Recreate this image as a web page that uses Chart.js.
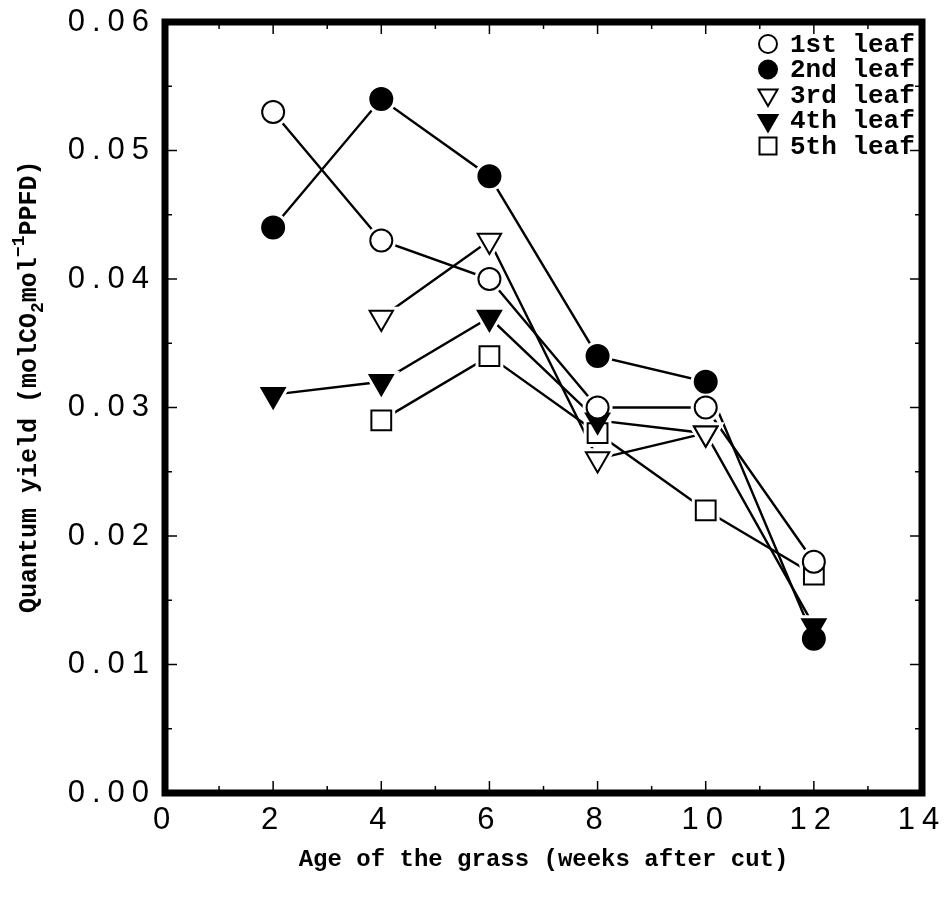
<!DOCTYPE html>
<html>
<head>
<meta charset="utf-8">
<script src="https://cdn.jsdelivr.net/npm/chart.js@4.4.1/dist/chart.umd.min.js"></script>
<style>
html, body { margin: 0; padding: 0; background: #fff; }
#wrap { width: 944px; height: 897px; }
</style>
</head>
<body>
<div id="wrap"><canvas id="myChart"></canvas></div>
<script>
// weeks after cut and quantum yield per leaf
const weeks = [2, 4, 6, 8, 10, 12];
const leaf1 = [0.053, 0.043, 0.040, 0.030, 0.030, 0.018];
const leaf2 = [0.044, 0.054, 0.048, 0.034, 0.032, 0.012];
const leaf3 = [null, 0.037, 0.043, 0.026, 0.028, null];
const leaf4 = [0.031, 0.032, 0.037, 0.029, 0.028, 0.013];
const leaf5 = [null, 0.029, 0.034, 0.028, 0.022, 0.017];
const leafNames = ['1st leaf', '2nd leaf', '3rd leaf', '4th leaf', '5th leaf'];

const mono = '"Liberation Mono", "Courier New", monospace';

const pairs = (vals) => weeks.map((w, i) => ({ x: w, y: vals[i] }));

const markers = [
    { style: 'circle', fill: '#fff', radius: 11, rotation: 0 },
    { style: 'circle', fill: '#000', radius: 11, rotation: 0 },
    { style: 'triangle', fill: '#fff', radius: 13.5, rotation: 180 },
    { style: 'triangle', fill: '#000', radius: 13.5, rotation: 180 },
    { style: 'rect', fill: '#fff', radius: 14, rotation: 0 }
];

const series = [leaf1, leaf2, leaf3, leaf4, leaf5];

// three layers per leaf: markers on top, a white halo under them so the
// connecting lines stop short of each symbol, and the lines at the bottom
const markerSets = series.map((vals, i) => ({
    label: leafNames[i],
    data: pairs(vals),
    showLine: false,
    pointStyle: markers[i].style,
    pointRadius: markers[i].radius,
    pointRotation: markers[i].rotation,
    pointBorderColor: '#000',
    pointBorderWidth: 2,
    pointBackgroundColor: markers[i].fill
}));
const haloSets = series.map((vals, i) => ({
    label: leafNames[i] + ' halo',
    data: pairs(vals),
    showLine: false,
    pointStyle: markers[i].style,
    pointRadius: markers[i].radius,
    pointRotation: markers[i].rotation,
    pointBorderColor: '#fff',
    pointBorderWidth: 8,
    pointBackgroundColor: '#fff'
}));
const lineSets = series.map((vals, i) => ({
    label: leafNames[i] + ' line',
    data: pairs(vals),
    borderColor: '#000',
    borderWidth: 2.4,
    pointRadius: 0,
    tension: 0,
    fill: false
}));

// small legend marker, same shapes as the points
function drawMarker(ctx, m, x, y) {
    ctx.save();
    ctx.fillStyle = m.fill;
    ctx.strokeStyle = '#000';
    ctx.lineWidth = 2;
    ctx.beginPath();
    if (m.style === 'circle') {
        ctx.arc(x, y, 9, 0, Math.PI * 2);
    } else if (m.style === 'triangle') {
        const r = 11;
        ctx.moveTo(x - r * 0.866, y - r / 2);
        ctx.lineTo(x + r * 0.866, y - r / 2);
        ctx.lineTo(x, y + r);
        ctx.closePath();
    } else {
        ctx.rect(x - 8.5, y - 8.5, 17, 17);
    }
    ctx.fill();
    ctx.stroke();
    ctx.restore();
}

const frame = {
    id: 'frame',
    beforeDraw(chart) {
        const ctx = chart.ctx;
        ctx.save();
        ctx.fillStyle = '#fff';
        ctx.fillRect(0, 0, chart.width, chart.height);
        ctx.restore();
        ctx.letterSpacing = '7px';
    },
    afterDraw(chart) {
        const { ctx, chartArea: a, scales: { x, y } } = chart;
        ctx.letterSpacing = '0px';
        ctx.save();
        ctx.strokeStyle = '#000';
        ctx.lineWidth = 1.5;
        const seg = (x1, y1, x2, y2) => {
            ctx.beginPath(); ctx.moveTo(x1, y1); ctx.lineTo(x2, y2); ctx.stroke();
        };
        // inward ticks on all four sides
        for (let v = 0; v <= 14; v++) {
            const px = x.getPixelForValue(v);
            const len = v % 2 === 0 ? 12 : 7;
            seg(px, a.bottom, px, a.bottom - len);
            seg(px, a.top, px, a.top + len);
        }
        for (let i = 0; i <= 12; i++) {
            const py = y.getPixelForValue(i * 0.005);
            const len = i % 2 === 0 ? 12 : 7;
            seg(a.left, py, a.left + len, py);
            seg(a.right, py, a.right - len, py);
        }
        ctx.lineWidth = 7;
        ctx.strokeRect(a.left, a.top, a.right - a.left, a.bottom - a.top);

        // legend
        ctx.fillStyle = '#000';
        ctx.font = 'bold 26px ' + mono;
        ctx.textBaseline = 'middle';
        ctx.textAlign = 'left';
        leafNames.forEach((name, i) => {
            const ly = 44 + i * 25.5;
            drawMarker(ctx, markers[i], 768, ly);
            ctx.fillText(name, 790, ly + 1);
        });

        // x axis title
        ctx.font = 'bold 24px ' + mono;
        ctx.textAlign = 'center';
        ctx.textBaseline = 'alphabetic';
        ctx.fillText('Age of the grass (weeks after cut)', (a.left + a.right) / 2, 866);

        // y axis title with subscript and superscript
        const parts = [
            ['Quantum yield (molCO', 0, 25],
            ['2', 7, 18],
            ['mol', 0, 25],
            ['\u22121', -12, 18],
            ['PPFD)', 0, 25]
        ];
        ctx.translate(36, 613);
        ctx.rotate(-Math.PI / 2);
        ctx.textAlign = 'left';
        let cx = 0;
        for (const [t, dy, size] of parts) {
            ctx.font = `bold ${size}px ${mono}`;
            ctx.fillText(t, cx, dy);
            cx += ctx.measureText(t).width;
        }
        ctx.restore();
    }
};

const tickFont = { family: '"Liberation Sans", Arial, sans-serif', size: 31 };

const config = {
    type: 'line',
    data: { datasets: [...markerSets, ...haloSets, ...lineSets] },
    options: {
        responsive: true,
        maintainAspectRatio: false,
        animation: false,
        layout: { padding: { top: 20, right: 20, left: 0, bottom: 0 } },
        plugins: {
            legend: { display: false },
            title: { display: false },
            tooltip: { enabled: false }
        },
        scales: {
            x: {
                type: 'linear',
                min: 0,
                max: 14,
                grid: { display: false, drawTicks: false },
                border: { display: false },
                ticks: { stepSize: 2, color: '#000', font: tickFont, padding: 9 },
                afterFit: (scale) => {
                    scale.height = 104;
                    scale.paddingLeft = 0;
                    scale.paddingRight = 0;
                }
            },
            y: {
                min: 0,
                max: 0.06,
                grid: { display: false, drawTicks: false },
                border: { display: false },
                ticks: {
                    stepSize: 0.01,
                    color: '#000',
                    font: tickFont,
                    padding: 9,
                    callback: (v) => v.toFixed(2)
                },
                afterFit: (scale) => {
                    scale.width = 165;
                    scale.paddingTop = 0;
                    scale.paddingBottom = 0;
                }
            }
        }
    },
    plugins: [frame]
};

var myChart = new Chart(document.getElementById('myChart'), config);
</script>
</body>
</html>
